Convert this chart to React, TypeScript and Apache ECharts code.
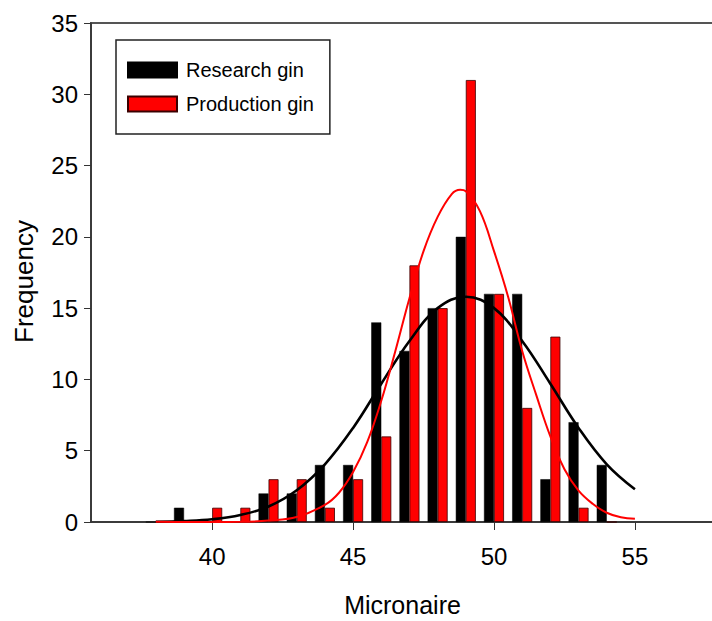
import React, { useEffect, useRef } from "react";
import * as echarts from "echarts";

// Histogram bins (Micronaire, x10)
const bins = [38, 39, 40, 41, 42, 43, 44, 45, 46, 47, 48, 49, 50, 51, 52, 53, 54];
const researchGin = [0, 1, 0, 0, 2, 2, 4, 4, 14, 12, 15, 20, 16, 16, 3, 7, 4];
const productionGin = [0, 0, 1, 1, 3, 3, 1, 3, 6, 18, 15, 31, 16, 8, 13, 1, 0];

// Fitted curves
const researchCurveX = [38, 39, 40, 41, 42, 43, 44, 45, 46, 47, 48, 49, 50, 51, 52, 53, 54, 55];
const researchCurveY = [0.02, 0.07, 0.19, 0.49, 1.09, 2.23, 4.05, 6.6, 9.7, 12.7, 15.0, 15.8, 15.0, 12.7, 9.7, 6.6, 4.05, 2.3];

const productionCurveX = [38, 39, 40, 41, 42, 43, 44, 44.5, 45, 45.5, 46, 46.5, 47, 47.5, 48, 48.5, 48.8, 49, 49.5, 50, 50.5, 51, 51.5, 52, 52.5, 53, 53.5, 54, 54.5, 55];
const productionCurveY = [0.01, 0.0, 0.0, 0.01, 0.1, 0.35, 1.2, 2.05, 3.5, 5.6, 8.5, 12.0, 15.7, 19.0, 21.4, 23.0, 23.3, 23.2, 21.8, 19.0, 15.8, 12.0, 8.9, 6.0, 3.7, 2.2, 1.28, 0.65, 0.33, 0.22];

const xTicks = [40, 45, 50, 55];

const FONT = "'Liberation Sans', Arial, sans-serif";

export default function App() {
  const ref = useRef<HTMLDivElement>(null);

  useEffect(() => {
    if (!ref.current) return;
    const chart = echarts.init(ref.current, null, { renderer: "svg" });
    const zip = (xs: number[], ys: number[]) => xs.map((x, i) => [x, ys[i]]);

    chart.setOption({
      animation: false,
      backgroundColor: "#ffffff",
      textStyle: { fontFamily: FONT },
      grid: {
        left: 91,
        top: 23,
        bottom: 99,
        right: -10,
        show: true,
        borderColor: "#555",
        borderWidth: 2,
        outerBoundsMode: "none",
        containLabel: false,
      },
      legend: {
        data: ["Research gin", "Production gin"],
        orient: "vertical",
        left: 116,
        top: 40,
        padding: [20, 16, 20, 11],
        itemGap: 14,
        itemWidth: 49,
        itemHeight: 15,
        borderColor: "#222",
        borderWidth: 1.5,
        icon: "rect",
        textStyle: { fontFamily: FONT, fontSize: 20, color: "#000", lineHeight: 15, padding: [0, 0, 0, 4] },
      },
      xAxis: {
        type: "value",
        min: 35.7,
        max: 58.09,
        name: "Micronaire",
        nameLocation: "middle",
        nameGap: 70,
        nameTextStyle: { fontFamily: FONT, fontSize: 25, color: "#000", padding: [0, 8, 0, 0] },
        axisLine: { show: true, lineStyle: { color: "#333", width: 1.5 } },
        axisTick: { show: true, customValues: xTicks, length: 8, lineStyle: { color: "#333" } },
        axisLabel: { customValues: xTicks, fontFamily: FONT, fontSize: 24, color: "#000", margin: 22 },
        splitLine: { show: false },
      },
      yAxis: {
        type: "value",
        min: 0,
        max: 35,
        interval: 5,
        name: "Frequency",
        nameLocation: "middle",
        nameGap: 54,
        nameTextStyle: { fontFamily: FONT, fontSize: 26, color: "#000", padding: [0, 18, 0, 0] },
        axisLine: { show: true, lineStyle: { color: "#333", width: 1.5 } },
        axisTick: { show: true, length: 7, lineStyle: { color: "#333" } },
        axisLabel: { fontFamily: FONT, fontSize: 24, color: "#000", margin: 13 },
        splitLine: { show: false },
      },
      series: [
        {
          name: "Research gin",
          type: "bar",
          data: zip(bins, researchGin),
          barWidth: 10,
          barGap: "0%",
          itemStyle: { color: "#000000", borderColor: "#000", borderWidth: 0.5 },
        },
        {
          name: "Production gin",
          type: "bar",
          data: zip(bins, productionGin),
          barWidth: 10,
          barGap: "0%",
          itemStyle: { color: "#ff0000", borderColor: "#3a0000", borderWidth: 0.8 },
        },
        {
          name: "Research fit",
          type: "line",
          data: zip(researchCurveX, researchCurveY),
          smooth: 0.4,
          symbol: "none",
          lineStyle: { color: "#000", width: 2.6 },
          z: 5,
        },
        {
          name: "Production fit",
          type: "line",
          data: zip(productionCurveX, productionCurveY),
          smooth: 0.4,
          symbol: "none",
          lineStyle: { color: "#ff0000", width: 2 },
          z: 5,
        },
      ],
    });
    return () => chart.dispose();
  }, []);

  return (
    <div
      ref={ref}
      style={{ position: "fixed", left: 0, top: 0, width: 712, height: 621, background: "#fff" }}
    />
  );
}
